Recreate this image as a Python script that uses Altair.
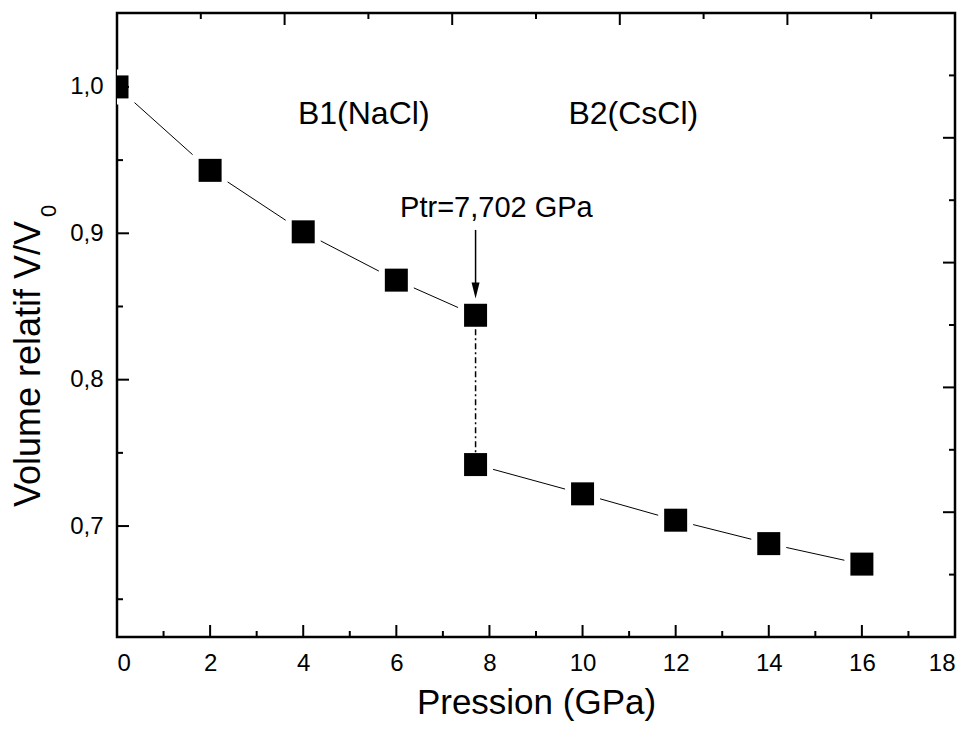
import altair as alt
import pandas as pd

# ---- data ----
P_B1 = [0, 2, 4, 6, 7.702]
V_B1 = [1.000, 0.943, 0.901, 0.868, 0.844]
P_B2 = [7.702, 10, 12, 14, 16]
V_B2 = [0.742, 0.722, 0.704, 0.688, 0.674]
P_TR = 7.702

X_MAJOR = [0, 2, 4, 6, 8, 10, 12, 14, 16, 18]
X_MINOR = [1, 3, 5, 7, 9, 11, 13, 15, 17]
Y_MAJOR = [0.7, 0.8, 0.9, 1.0]
Y_MINOR = [0.65, 0.75, 0.85, 0.95]
MIRROR_MAJOR = [2, 4, 6, 8]
MIRROR_MINOR = [1, 3, 5, 7, 9]
X_DOMAIN = [0, 18]
Y_DOMAIN = [0.6242, 1.0505]
MIRROR_DOMAIN = [0, 10]

PHASE_TEXT = ["B1(NaCl)", "B2(CsCl)"]
PHASE_P = [5.3, 11.09]
PHASE_V = [0.975, 0.975]
PTR_TEXT = ["Ptr=7,702 GPa"]
PTR_P = [8.15]
PTR_V = [0.9113]
ARROW_V = [0.9023, 0.8597]
ARROW_HEAD_V = [0.861]
Y_TITLE = "Volume relatif V/V"
Y_TITLE_SUB = "0"
X_TITLE = "Pression (GPa)"

W, H = 838, 624
FONT = "Liberation Sans"
MAJ, MIN = 12, 6
LABEL_SIZE = 24

xs = alt.Scale(domain=X_DOMAIN, nice=False, zero=False)
ys = alt.Scale(domain=Y_DOMAIN, nice=False, zero=False)


def X(field):
    return alt.X(field, type="quantitative", scale=xs, axis=alt.Axis(
        values=X_MAJOR, title=X_TITLE, ticks=False, tickSize=0, domain=False,
        grid=False, labelFontSize=LABEL_SIZE, labelFont=FONT, labelColor="black",
        labelPadding=14, format="d", titleFontSize=35, titleFont=FONT,
        titleFontWeight="normal", titleColor="black", titlePadding=10))


def Y(field):
    return alt.Y(field, type="quantitative", scale=ys, axis=alt.Axis(
        values=Y_MAJOR, title=None, ticks=False, tickSize=0, domain=False,
        grid=False, labelFontSize=LABEL_SIZE, labelFont=FONT, labelColor="black",
        labelPadding=14,
        labelExpr="replace(format(datum.value, '.1f'), '.', ',')"))


df = pd.DataFrame({
    "P": P_B1 + P_B2,
    "V": V_B1 + V_B2,
    "phase": ["B1"] * len(P_B1) + ["B2"] * len(P_B2),
})

base = alt.Chart(df).encode(x=X("P"), y=Y("V"))
lines = base.mark_line(color="black", strokeWidth=1).encode(detail="phase:N")
halo = base.mark_point(shape="square", filled=True, color="white", opacity=1,
                       size=1225, clip=True)
dots = base.mark_point(shape="square", filled=True, color="black", opacity=1,
                       size=529, clip=True)

tr = pd.DataFrame({"P": [P_TR], "V": [V_B1[-1]], "V2": [V_B2[0]]})
trans = alt.Chart(tr).mark_rule(color="black", strokeWidth=1.5,
                                strokeDash=[6, 3, 2, 3]).encode(
    x=X("P"), y=Y("V"), y2="V2")

ar = pd.DataFrame({"P": [P_TR], "V": [ARROW_V[0]], "V2": [ARROW_V[1]]})
shaft = alt.Chart(ar).mark_rule(color="black", strokeWidth=1.5).encode(
    x=X("P"), y=Y("V"), y2="V2")
head = alt.Chart(pd.DataFrame({"P": [P_TR], "V": ARROW_HEAD_V})).mark_point(
    shape="M-0.5,-1L0.5,-1L0,1Z", filled=True, color="black", opacity=1,
    size=256).encode(x=X("P"), y=Y("V"))

phase_txt = alt.Chart(pd.DataFrame({"P": PHASE_P, "V": PHASE_V, "t": PHASE_TEXT})).mark_text(
    font=FONT, fontSize=32, color="black", align="center", baseline="alphabetic").encode(
    x=X("P"), y=Y("V"), text="t:N")
ptr_txt = alt.Chart(pd.DataFrame({"P": PTR_P, "V": PTR_V, "t": PTR_TEXT})).mark_text(
    font=FONT, fontSize=29, color="black", align="center", baseline="alphabetic").encode(
    x=X("P"), y=Y("V"), text="t:N")

ytitle = alt.Chart(pd.DataFrame({"t": [Y_TITLE]})).mark_text(
    font=FONT, fontSize=36, color="black", angle=270, align="left",
    baseline="alphabetic").encode(x=alt.value(-77), y=alt.value(494), text="t:N")
ytitle_sub = alt.Chart(pd.DataFrame({"t": [Y_TITLE_SUB]})).mark_text(
    font=FONT, fontSize=22, color="black", angle=270, align="left",
    baseline="alphabetic").encode(x=alt.value(-61), y=alt.value(204), text="t:N")


def xticks(vals, length):
    return alt.Chart(pd.DataFrame({"P": vals})).mark_rule(
        color="black", strokeWidth=2).encode(
        x=X("P"), y=alt.value(H), y2=alt.value(H - length))


def yticks(vals, length):
    return alt.Chart(pd.DataFrame({"V": vals})).mark_rule(
        color="black", strokeWidth=2).encode(
        y=Y("V"), x=alt.value(0), x2=alt.value(length))


def topticks(vals, length):
    return alt.Chart(pd.DataFrame({"k": vals})).mark_rule(
        color="black", strokeWidth=2).encode(
        x=alt.X("k:Q", scale=alt.Scale(domain=MIRROR_DOMAIN, nice=False, zero=False), axis=None),
        y=alt.value(0), y2=alt.value(length))


def rightticks(vals, length):
    return alt.Chart(pd.DataFrame({"k": vals})).mark_rule(
        color="black", strokeWidth=2).encode(
        y=alt.Y("k:Q", scale=alt.Scale(domain=MIRROR_DOMAIN, nice=False, zero=False), axis=None),
        x=alt.value(W), x2=alt.value(W - length))


main = alt.layer(
    lines, halo, trans, dots, shaft, head, phase_txt, ptr_txt,
    ytitle, ytitle_sub,
    xticks(X_MAJOR, MAJ), xticks(X_MINOR, MIN),
    yticks(Y_MAJOR, MAJ), yticks(Y_MINOR, MIN),
)

chart = alt.layer(
    main,
    topticks(MIRROR_MAJOR, MAJ), topticks(MIRROR_MINOR, MIN),
    rightticks(MIRROR_MAJOR, MAJ), rightticks(MIRROR_MINOR, MIN),
).resolve_scale(x="independent", y="independent").properties(
    width=W, height=H,
    autosize=alt.AutoSizeParams(type="none"),
    padding={"left": 109, "top": 5, "right": 4, "bottom": 86},
    background="white",
).configure_view(stroke="black", strokeWidth=2.5)

chart.save("out.html", embed_options={"renderer": "svg", "actions": False})
